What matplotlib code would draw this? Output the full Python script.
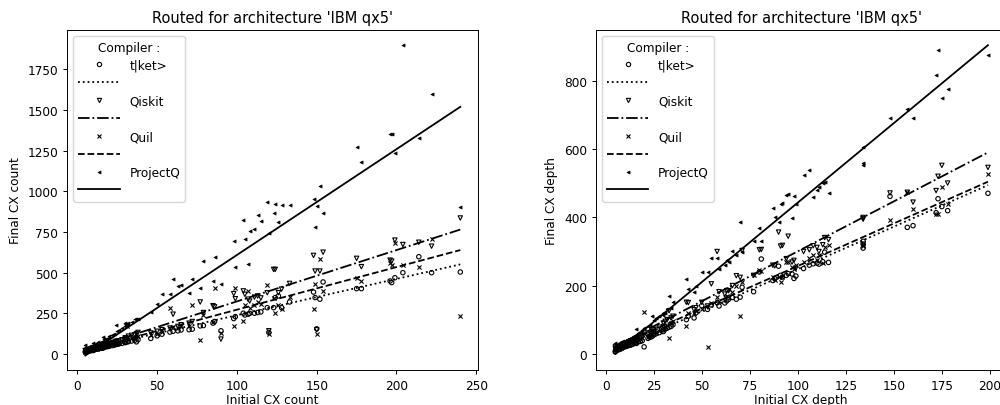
import matplotlib
matplotlib.use("Agg")
import matplotlib.pyplot as plt
from matplotlib.lines import Line2D

# ---------------- Left panel: CX count ----------------
count_x = [5, 5, 6, 7, 8, 9, 10, 10, 11, 12, 13, 14, 15, 16, 16, 17, 18, 19, 20, 22,
           23, 24, 25, 26, 28, 30, 30, 31, 32, 34, 36, 37, 38, 46, 50, 53, 58, 60, 63, 65,
           70, 72, 77, 79, 85, 86, 90, 98, 99, 104, 105, 107, 108, 111, 113, 115, 119, 120, 123, 124,
           126, 128, 133, 148, 149, 150, 152, 154, 175, 178, 196, 197, 199, 204, 214, 222, 240]
count_tket = [12, 15, 16, 18, 20, 22, 25, 22, 27, 30, 32, 34, 38, 40, 36, 42, 45, 46, 48, 52,
              55, 58, 60, 62, 66, 70, 72, 74, 76, 80, 85, 75, 88, 96, 112, 122, 135, 140, 143, 148,
              150, 153, 173, 175, 190, 200, 143, 218, 230, 251, 240, 245, 250, 251, 255, 259, 285, 133, 285, 347,
              357, 285, 320, 381, 347, 155, 337, 443, 402, 402, 449, 439, 469, 500, 598, 500, 504]
count_qiskit = [20, 22, 25, 28, 30, 32, 36, 30, 35, 40, 42, 46, 50, 55, 48, 56, 60, 62, 65, 70,
                72, 78, 80, 82, 88, 95, 100, 173, 110, 115, 118, 125, 133, 130, 140, 150, 160, 245, 170, 180,
                190, 200, 320, 255, 297, 290, 92, 371, 340, 388, 367, 337, 326, 350, 357, 345, 377, 143, 520, 520,
                377, 399, 434, 606, 510, 149, 510, 626, 588, 537, 577, 571, 700, 673, 687, 663, 836]
count_quil = [15, 18, 20, 22, 25, 28, 30, 28, 32, 34, 38, 40, 42, 45, 44, 48, 52, 55, 56, 60,
              62, 66, 70, 70, 75, 80, 88, 170, 95, 98, 100, 105, 110, 118, 125, 135, 280, 165, 160, 170,
              175, 300, 88, 240, 200, 408, 128, 173, 408, 204, 300, 388, 280, 300, 320, 310, 422, 122, 343, 255,
              301, 276, 350, 275, 430, 122, 585, 388, 469, 450, 560, 550, 683, 545, 537, 704, 231]
count_projectq = [35, 57, 40, 45, 50, 48, 57, 65, 60, 66, 75, 70, 77, 102, 80, 90, 95, 100, 110, 120,
                  125, 177, 140, 150, 160, 188, 175, 184, 190, 200, 215, 218, 215, 260, 306, 367, 367, 459, 418, 422,
                  377, 459, 408, 571, 449, 598, 428, 694, 534, 826, 704, 551, 755, 769, 857, 816, 932, 741, 867, 924,
                  810, 918, 918, 953, 779, 912, 1030, 867, 1273, 1181, 1355, 1355, 1234, 1897, 1330, 1597, 902]

# fitted trend lines (end points)
count_fit_x = [5, 240]
count_fit_tket = [27, 551]
count_fit_qiskit = [24, 765]
count_fit_quil = [24, 639]
count_fit_projectq = [-9, 1519]

# ---------------- Right panel: CX depth ----------------
depth_x = [5, 5, 6, 7, 8, 9, 10, 11, 12, 13, 14, 15, 16, 16, 17, 18, 19, 20, 22, 23,
           24, 25, 26, 28, 30, 30, 31, 32, 33, 34, 35, 42, 43, 46, 47, 50, 53, 55, 58, 59,
           62, 63, 64, 66, 68, 70, 71, 77, 80, 81, 87, 88, 90, 91, 92, 94, 95, 97, 98, 99,
           103, 106, 108, 110, 111, 113, 114, 116, 134, 134, 134, 148, 157, 160, 172, 173, 175, 178, 199]
depth_tket = [5, 8, 10, 12, 15, 18, 20, 22, 24, 25, 28, 30, 32, 30, 35, 36, 38, 20, 45, 48,
              50, 55, 58, 62, 65, 70, 72, 75, 78, 80, 85, 100, 110, 105, 120, 141, 130, 143, 150, 140,
              149, 155, 160, 165, 160, 166, 195, 182, 240, 278, 215, 220, 257, 230, 225, 230, 235, 234, 221, 228,
              250, 260, 264, 266, 263, 270, 298, 268, 310, 322, 330, 462, 371, 376, 414, 455, 432, 420, 471]
depth_qiskit = [15, 20, 18, 22, 25, 28, 30, 32, 35, 38, 40, 42, 45, 40, 48, 50, 52, 55, 58, 62,
                65, 70, 72, 78, 80, 90, 95, 100, 126, 105, 110, 151, 150, 129, 135, 151, 140, 205, 300, 182,
                175, 185, 185, 200, 229, 224, 303, 230, 305, 306, 260, 258, 357, 316, 318, 279, 345, 269, 274, 251,
                300, 305, 317, 312, 300, 320, 341, 335, 397, 395, 400, 472, 474, 445, 479, 521, 553, 501, 547]
depth_quil = [10, 12, 14, 15, 18, 22, 24, 26, 28, 30, 32, 35, 38, 36, 40, 42, 45, 121, 50, 52,
              55, 60, 62, 68, 70, 75, 78, 85, 45, 90, 95, 82, 120, 120, 125, 130, 20, 150, 165, 155,
              165, 170, 190, 180, 200, 112, 210, 230, 245, 244, 225, 215, 224, 210, 225, 270, 268, 255, 250, 260,
              270, 280, 289, 275, 290, 265, 313, 318, 320, 325, 315, 392, 474, 426, 410, 410, 490, 440, 528]
depth_projectq = [31, 20, 25, 28, 33, 38, 35, 40, 38, 45, 48, 50, 72, 55, 60, 65, 70, 75, 80, 85,
                  110, 100, 105, 110, 115, 118, 120, 130, 169, 135, 151, 218, 190, 180, 200, 241, 240, 280, 280, 249,
                  260, 276, 270, 303, 290, 386, 300, 330, 368, 330, 427, 400, 386, 440, 443, 466, 468, 398, 464, 440,
                  524, 539, 460, 480, 490, 500, 505, 472, 607, 555, 560, 692, 719, 692, 817, 892, 750, 776, 877]

depth_fit_x = [5, 199]
depth_fit_tket = [12, 495]
depth_fit_qiskit = [22, 591]
depth_fit_quil = [20, 505]
depth_fit_projectq = [0, 906]

compilers = ["t|ket>", "Qiskit", "Quil", "ProjectQ"]
markers = ["o", "v", "x", "<"]
styles = [":", "-.", "--", "-"]

FS = 8.75
plt.rcParams.update({
    "font.size": FS,
    "axes.titlesize": 10.5,
    "axes.labelsize": FS,
    "xtick.labelsize": FS,
    "ytick.labelsize": FS,
    "legend.fontsize": FS,
    "legend.title_fontsize": FS,
    "axes.linewidth": 0.7,
    "xtick.major.width": 0.7,
    "ytick.major.width": 0.7,
    "xtick.major.size": 3.0,
    "ytick.major.size": 3.0,
})
LW = 1.3

fig = plt.figure(figsize=(10, 4.06), dpi=100)
ax1 = fig.add_axes([0.0673, 0.087, 0.4104, 0.837])
ax2 = fig.add_axes([0.596, 0.087, 0.4104, 0.837])


def draw(ax, xs, ys_list, fx, fits, xlabel, ylabel):
    handles, labels = [], []
    for name, ys, fy, m, ls in zip(compilers, ys_list, fits, markers, styles):
        if m in ("o", "v"):
            ax.scatter(xs, ys, s=10, marker=m, facecolors="none", edgecolors="k", linewidths=0.8)
        elif m == "x":
            ax.scatter(xs, ys, s=9, marker=m, c="k", linewidths=0.8)
        else:
            ax.scatter(xs, ys, s=5, marker=m, c="k", linewidths=0.5)
        ax.plot(fx, fy, color="k", linestyle=ls, linewidth=LW)
        if m in ("o", "v"):
            mh = Line2D([], [], linestyle="none", marker=m, markersize=3.1,
                        markerfacecolor="none", markeredgecolor="k", markeredgewidth=0.8)
        elif m == "x":
            mh = Line2D([], [], linestyle="none", marker=m, markersize=2.9, color="k",
                        markeredgewidth=0.8)
        else:
            mh = Line2D([], [], linestyle="none", marker=m, markersize=2.2, color="k",
                        markeredgewidth=0.5)
        lh = Line2D([], [], color="k", linestyle=ls, linewidth=LW)
        handles += [mh, lh]
        labels += [name, ""]
    ax.legend(handles, labels, title="Compiler :", loc="upper left", handlelength=3.4,
              labelspacing=0.4)
    ax.set_title("Routed for architecture 'IBM qx5'")
    ax.set_xlabel(xlabel, labelpad=1)
    ax.set_ylabel(ylabel)


draw(ax1, count_x, [count_tket, count_qiskit, count_quil, count_projectq], count_fit_x,
     [count_fit_tket, count_fit_qiskit, count_fit_quil, count_fit_projectq],
     "Initial CX count", "Final CX count")
draw(ax2, depth_x, [depth_tket, depth_qiskit, depth_quil, depth_projectq], depth_fit_x,
     [depth_fit_tket, depth_fit_qiskit, depth_fit_quil, depth_fit_projectq],
     "Initial CX depth", "Final CX depth")

ax1.set_xlim(-6.3, 250.9)
ax1.set_ylim(-96, 1992)
ax1.set_xticks([0, 50, 100, 150, 200, 250])
ax1.set_yticks([0, 250, 500, 750, 1000, 1250, 1500, 1750])
ax2.set_xlim(-5.05, 208.6)
ax2.set_ylim(-47, 951)
ax2.set_xticks([0, 25, 50, 75, 100, 125, 150, 175, 200])
ax2.set_yticks([0, 200, 400, 600, 800])

fig.savefig("out.png", dpi=100)
